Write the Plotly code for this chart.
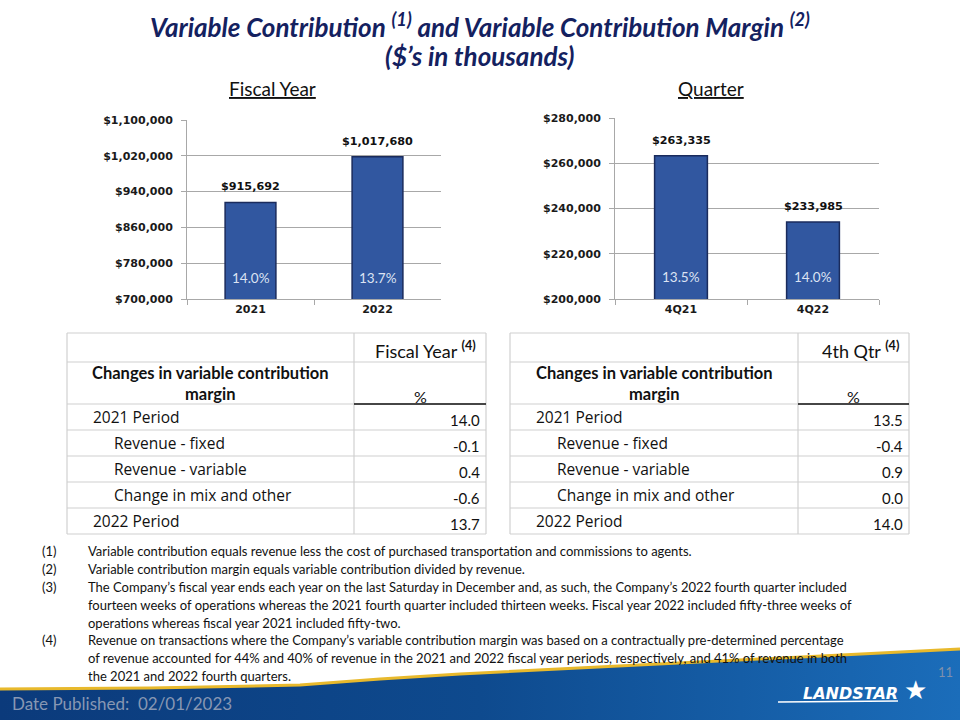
import plotly.graph_objects as go

# ---------------- data ----------------
fy_categories = ["2021", "2022"]
fy_values = [915692, 1017680]
fy_margins = ["14.0%", "13.7%"]

q_categories = ["4Q21", "4Q22"]
q_values = [263335, 233985]
q_margins = ["13.5%", "14.0%"]

fy_tick_values = [700000, 780000, 860000, 940000, 1020000, 1100000]
q_tick_values = [200000, 220000, 240000, 260000, 280000]

table_rows = ["2021 Period", "Revenue - fixed", "Revenue - variable",
              "Change in mix and other", "2022 Period"]
row_indented = [False, True, True, True, False]
fy_changes = ["14.0", "-0.1", "0.4", "-0.6", "13.7"]
q_changes = ["13.5", "-0.4", "0.9", "0.0", "14.0"]

footnote_numbers = ["(1)", "(2)", "(3)", "(4)"]
footnote_lines = [
    ["Variable contribution equals revenue less the cost of purchased transportation and commissions to agents."],
    ["Variable contribution margin equals variable contribution divided by revenue."],
    ["The Company’s fiscal year ends each year on the last Saturday in December and, as such, the Company’s 2022 fourth quarter included",
     "fourteen weeks of operations whereas the 2021 fourth quarter included thirteen weeks. Fiscal year 2022 included fifty-three weeks of",
     "operations whereas fiscal year 2021 included fifty-two."],
    ["Revenue on transactions where the Company’s variable contribution margin was based on a contractually pre-determined percentage",
     "of revenue accounted for 44% and 40% of revenue in the 2021 and 2022 fiscal year periods, respectively, and 41% of revenue in both",
     "the 2021 and 2022 fourth quarters."],
]

# ---------------- helpers ----------------
W, H = 960, 720


def X(px):
    return px / W


def Y(py):
    return 1 - py / H


NAVY = "#14215F"
BAR = "#3157A0"
BAR_EDGE = "#1A2B5C"
GRID = "#A8A8A8"
TICKFONT = dict(family="DejaVu Sans", size=11, color="#1A1A1A", weight="bold")

fig = go.Figure()

# bars
fig.add_trace(go.Bar(x=fy_categories, y=fy_values, width=0.4,
                     marker=dict(color=BAR, line=dict(color=BAR_EDGE, width=1.5)),
                     xaxis="x", yaxis="y", hoverinfo="skip"))
fig.add_trace(go.Bar(x=q_categories, y=q_values, width=0.4,
                     marker=dict(color=BAR, line=dict(color=BAR_EDGE, width=1.5)),
                     xaxis="x2", yaxis="y2", hoverinfo="skip"))

# bottom decorative band (gradient)
band_x = [0, 150, 300, 380, 460, 560, 660, 760, 860, 960]
band_y = [689, 688, 685, 679, 674, 669, 664, 659, 654, 649]
fig.add_trace(go.Scatter(
    x=band_x + [960, 0], y=band_y + [720, 720], mode="lines", fill="toself",
    line=dict(width=0, color="rgba(0,0,0,0)"),
    fillgradient=dict(type="horizontal",
                      colorscale=[[0, "#0B3A7B"], [0.5, "#0E4A8E"], [1, "#1B6DBA"]]),
    xaxis="x3", yaxis="y3", hoverinfo="skip"))
fig.add_trace(go.Scatter(
    x=band_x, y=band_y, mode="lines", line=dict(color="#E8B92C", width=3),
    xaxis="x3", yaxis="y3", hoverinfo="skip"))
fig.add_trace(go.Scatter(
    x=[778, 898], y=[702, 701], mode="lines", line=dict(color="white", width=1.5),
    xaxis="x3", yaxis="y3", hoverinfo="skip"))

annotations = []
shapes = []


def txt(xp, yp, text, font, xanchor="center", yanchor="middle"):
    annotations.append(dict(x=X(xp), y=Y(yp), xref="paper", yref="paper", text=text,
                            showarrow=False, xanchor=xanchor, yanchor=yanchor,
                            font=font))


# value labels and margin labels on bars (x given as category index)
for cats, vals, margins, xa, ya in [(fy_categories, fy_values, fy_margins, "x", "y"),
                                     (q_categories, q_values, q_margins, "x2", "y2")]:
    for i, (c, v, m) in enumerate(zip(cats, vals, margins)):
        annotations.append(dict(x=i, y=v, xref=xa, yref=ya, text=f"<b>${v:,}</b>",
                                showarrow=False, xanchor="center", yanchor="bottom", yshift=7,
                                font=dict(family="DejaVu Sans", size=11.2, color="#111111")))
        annotations.append(dict(x=i, y=0.12, xref=xa, yref=ya + " domain", text=m,
                                showarrow=False, xanchor="center", yanchor="middle",
                                font=dict(family="Lato", size=13.5, color="#DCE3F3")))

# title
txt(480, 26, "<b><i>Variable Contribution <sup>(1)</sup> and Variable Contribution Margin <sup>(2)</sup></i></b>",
    dict(family="Lato", size=26, color=NAVY))
txt(480, 56, "<b><i>($’s in thousands)</i></b>", dict(family="Lato", size=26, color=NAVY))
txt(272, 88, "<u>Fiscal Year</u>", dict(family="Lato", size=19, color="#111111"))
txt(711, 88, "<u>Quarter</u>", dict(family="Lato", size=19, color="#111111"))

# tables
row_bounds = [333, 362, 404, 430, 456, 482, 508, 534]
TBL_GRID = "#D0D0D0"
for (x0, xm, x1, header, values) in [(67, 354, 486, "Fiscal Year", fy_changes),
                                     (510, 798, 909, "4th Qtr", q_changes)]:
    for yb in row_bounds:
        shapes.append(dict(type="line", xref="paper", yref="paper",
                           x0=X(x0), x1=X(x1), y0=Y(yb), y1=Y(yb),
                           line=dict(color=TBL_GRID, width=1.2)))
    for xv in (x0, xm, x1):
        shapes.append(dict(type="line", xref="paper", yref="paper",
                           x0=X(xv), x1=X(xv), y0=Y(row_bounds[0]), y1=Y(row_bounds[-1]),
                           line=dict(color=TBL_GRID, width=1.2)))
    shapes.append(dict(type="line", xref="paper", yref="paper",
                       x0=X(xm), x1=X(x1), y0=Y(404), y1=Y(404),
                       line=dict(color="#111111", width=1.6)))
    txt(x1 - 8, 350, f"{header} <sup><b>(4)</b></sup>",
        dict(family="Lato", size=18, color="#111111"), xanchor="right")
    txt((x0 + xm) / 2, 383, "<b>Changes in variable contribution<br>margin</b>",
        dict(family="Lato", size=16.5, color="#111111"))
    txt((xm + x1) / 2, 396, "%", dict(family="Lato", size=16, color="#111111"))
    for i, (lab, ind, val) in enumerate(zip(table_rows, row_indented, values)):
        yc = (row_bounds[i + 2] + row_bounds[i + 3]) / 2
        txt(x0 + (45 if ind else 24), yc, lab,
            dict(family="Open Sans", size=15.5, color="#111111"), xanchor="left")
        txt(x1 - 4, yc + 3, val, dict(family="Lato", size=15, color="#111111"),
            xanchor="right")

# footnotes
line_y = 551
for num, lines in zip(footnote_numbers, footnote_lines):
    txt(40, line_y, num, dict(family="Lato", size=13, color="#111111"), xanchor="left")
    for ln in lines:
        txt(86, line_y, ln, dict(family="Lato", size=13, color="#111111"), xanchor="left")
        line_y += 17.9

# bottom band texts
txt(10, 703, "Date Published:  02/01/2023", dict(family="Lato", size=17, color="#8797B3"),
    xanchor="left")
txt(945, 672, "11", dict(family="Lato", size=13, color="#7F90AC"))
txt(850, 693, "<b><i>LANDSTAR</i></b>", dict(family="DejaVu Sans", size=16, color="white"))
txt(915, 690, "★", dict(family="DejaVu Sans", size=26, color="white"))

axis_common = dict(showline=True, linecolor=GRID, linewidth=1, ticks="outside",
                   ticklen=5, tickcolor=GRID, tickfont=TICKFONT, fixedrange=True)

fig.update_layout(
    width=W, height=H, margin=dict(l=0, r=0, t=0, b=0, autoexpand=False),
    paper_bgcolor="white", plot_bgcolor="rgba(0,0,0,0)", showlegend=False,
    xaxis=dict(domain=[X(187), X(441)], anchor="y", type="category", range=[-0.5, 1.5],
               tickson="boundaries", **axis_common),
    yaxis=dict(domain=[Y(299), Y(120)], anchor="x", range=[700000, 1100000],
               tickvals=fy_tick_values, ticktext=[f"${v:,}" for v in fy_tick_values],
               showgrid=True, gridcolor=GRID, zeroline=False, ticklabelstandoff=6,
               **axis_common),
    xaxis2=dict(domain=[X(615), X(879)], anchor="y2", type="category", range=[-0.5, 1.5],
                tickson="boundaries", **axis_common),
    yaxis2=dict(domain=[Y(299), Y(118)], anchor="x2", range=[200000, 280000],
                tickvals=q_tick_values, ticktext=[f"${v:,}" for v in q_tick_values],
                showgrid=True, gridcolor=GRID, zeroline=False, ticklabelstandoff=6,
                **axis_common),
    xaxis3=dict(domain=[0, 1], range=[0, 960], visible=False, fixedrange=True, anchor="y3"),
    yaxis3=dict(domain=[0, 1], range=[720, 0], visible=False, fixedrange=True, anchor="x3"),
    annotations=annotations, shapes=shapes,
)

fig.write_html("out.html", config={"displayModeBar": False},
               post_script="document.body.style.margin='0';document.body.style.overflow='hidden';")
